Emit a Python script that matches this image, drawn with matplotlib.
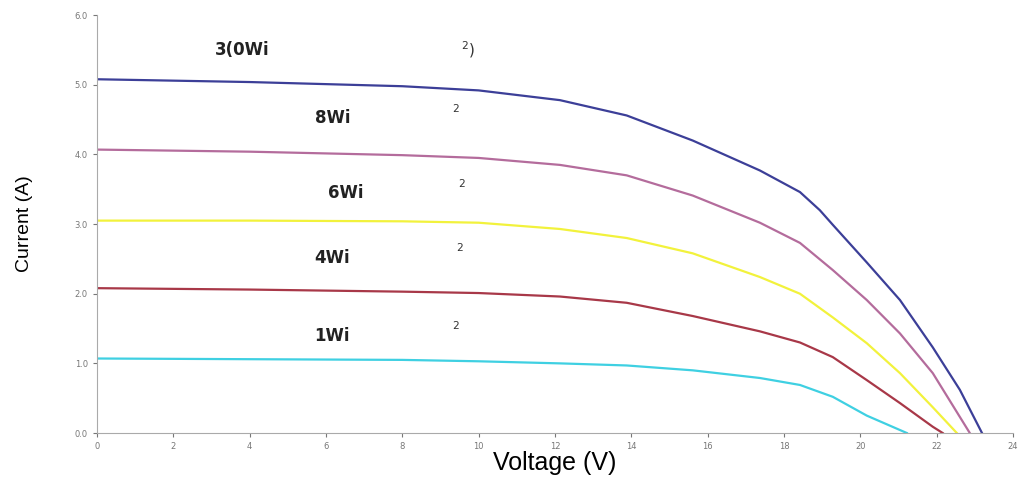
import matplotlib.pyplot as plt

# irradiance curves (voltage in V, current in A)
v_1000 = [0, 4, 8, 10, 12.13, 13.88, 15.61, 17.37, 18.42, 18.94, 19.28, 20.17, 21.04, 21.9, 22.61, 23.19]
i_1000 = [5.08, 5.04, 4.98, 4.92, 4.78, 4.56, 4.2, 3.77, 3.46, 3.2, 2.99, 2.45, 1.91, 1.23, 0.62, 0.0]

v_800 = [0, 4, 8, 10, 12.13, 13.88, 15.61, 17.37, 18.42, 19.28, 20.17, 21.04, 21.9, 22.87]
i_800 = [4.07, 4.04, 3.99, 3.95, 3.85, 3.70, 3.41, 3.02, 2.73, 2.34, 1.91, 1.43, 0.86, 0.0]

v_600 = [0, 4, 8, 10, 12.13, 13.88, 15.61, 17.37, 18.42, 19.28, 20.17, 21.04, 21.9, 22.53]
i_600 = [3.05, 3.05, 3.04, 3.02, 2.93, 2.80, 2.58, 2.24, 2.0, 1.66, 1.29, 0.86, 0.37, 0.0]

v_400 = [0, 4, 8, 10, 12.13, 13.88, 15.61, 17.37, 18.42, 19.28, 20.17, 21.04, 21.9, 22.16]
i_400 = [2.08, 2.06, 2.03, 2.01, 1.96, 1.87, 1.68, 1.46, 1.3, 1.09, 0.76, 0.43, 0.09, 0.0]

v_200 = [0, 4, 8, 10, 12.13, 13.88, 15.61, 17.37, 18.42, 19.28, 20.17, 21.22]
i_200 = [1.07, 1.06, 1.05, 1.03, 1.0, 0.97, 0.9, 0.79, 0.69, 0.52, 0.25, 0.0]

curve_colors = ['#3c3f98', '#b46c9c', '#f2f23c', '#a83848', '#3fd0e2']

# labels as garbled in the scan: (x, y, text, sup x, sup y, sup text)
labels = [(3.1, 5.5, '3(0Wi', 9.55, 5.5, '$^{2}$)'),
          (5.7, 4.52, '8Wi', 9.3, 4.6, '$^{2}$'),
          (6.05, 3.44, '6Wi', 9.45, 3.52, '$^{2}$'),
          (5.7, 2.51, '4Wi', 9.4, 2.6, '$^{2}$'),
          (5.7, 1.39, '1Wi', 9.3, 1.48, '$^{2}$')]

fig = plt.figure(figsize=(10.18, 4.9), dpi=100)
ax = fig.add_axes([0.0953, 0.1163, 0.8997, 0.8527])

curves = [(v_1000, i_1000), (v_800, i_800), (v_600, i_600), (v_400, i_400), (v_200, i_200)]
for (v, i), c in zip(curves, curve_colors):
    ax.plot(v, i, color=c, lw=1.6, solid_joinstyle='round')

for x, y, t, sx, sy, s in labels:
    ax.text(x, y, t, fontsize=12, fontweight='bold', va='center', color='#222222')
    ax.text(sx, sy, s, fontsize=11, va='center', color='#333333')

ax.set_xlim(0, 24)
ax.set_ylim(0, 6)
ax.set_xticks(range(0, 25, 2))
ax.set_yticks([0, 1, 2, 3, 4, 5, 6])
ax.set_yticklabels(['0.0', '1.0', '2.0', '3.0', '4.0', '5.0', '6.0'])
ax.tick_params(labelsize=6, colors='#777777', length=3, width=0.8)
for side in ['top', 'right']:
    ax.spines[side].set_visible(False)
for side in ['left', 'bottom']:
    ax.spines[side].set_color('#aaaaaa')

ax.set_xlabel('Voltage (V)', fontsize=18, family=['Liberation Sans', 'DejaVu Sans'], labelpad=0)
ax.set_ylabel('Current (A)', fontsize=14, family=['Liberation Sans', 'DejaVu Sans'], labelpad=30)

fig.savefig('out.png', dpi=100)
